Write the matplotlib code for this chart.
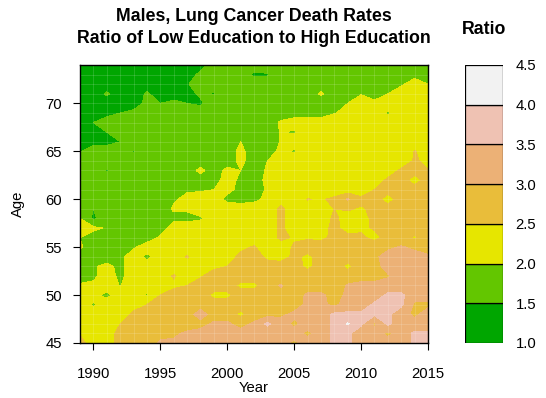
import numpy as np
import matplotlib
matplotlib.use("Agg")
import matplotlib.pyplot as plt

plt.rcParams['font.family'] = ['Liberation Sans', 'DejaVu Sans']

years = np.arange(1989, 2016)
ages = np.arange(45, 75)

# ratio of low- to high-education lung cancer death rates, rows from age 74 down to 45
ratio_rows = [
	[1.3,1.3,1.3,1.3,1.3,1.3,1.3,1.3,1.3,1.3,1.8,1.8,1.8,1.8,1.8,1.8,1.8,1.8,1.8,1.8,1.8,1.8,1.8,1.8,1.8,1.8,1.8],  # 74
	[1.3,1.3,1.3,1.3,1.3,1.3,1.3,1.3,1.3,1.6,1.8,1.8,1.8,1.4,1.45,1.8,1.8,1.8,1.8,1.8,1.8,1.8,1.8,1.8,1.8,1.9,1.8],  # 73
	[1.3,1.3,1.3,1.3,1.3,1.3,1.3,1.3,1.45,1.8,1.8,1.8,1.8,1.8,1.8,1.8,1.8,1.8,1.8,1.8,1.8,1.8,1.8,1.8,1.95,2.15,2.0],  # 72
	[1.3,1.3,1.55,1.3,1.3,1.55,1.3,1.3,1.3,1.6,1.45,1.8,1.8,1.8,1.8,1.8,1.8,1.8,2.05,1.8,1.8,1.98,1.9,2.0,2.2,2.2,2.2],  # 71
	[1.3,1.3,1.3,1.3,1.3,1.6,1.5,1.6,1.5,1.4,1.8,1.8,1.8,1.8,1.8,1.8,1.8,1.8,1.8,1.8,2.0,2.2,2.05,2.15,2.2,2.2,2.2],  # 70
	[1.3,1.3,1.3,1.5,1.6,1.8,1.8,1.8,1.8,1.8,1.8,1.8,1.8,1.8,1.8,1.8,1.8,1.8,1.8,1.98,2.1,2.2,2.2,1.95,2.2,2.2,2.2],  # 69
	[1.3,1.5,1.8,1.8,1.8,1.8,1.8,1.8,1.8,1.8,1.8,1.8,1.8,1.8,1.8,2.05,2.2,2.2,2.2,2.2,2.2,2.2,2.2,2.2,2.2,2.2,2.2],  # 68
	[1.3,1.3,1.5,1.8,1.8,1.8,1.8,1.8,1.8,1.8,1.8,1.8,1.8,1.8,1.8,2.02,1.95,2.2,2.2,2.2,2.2,2.2,2.2,2.2,2.2,2.2,2.2],  # 67
	[1.3,1.3,1.3,1.5,1.8,1.8,1.8,1.8,1.8,1.8,1.8,1.8,2.0,1.8,1.8,2.02,2.2,2.2,2.2,2.2,2.2,2.2,2.2,2.2,2.2,2.2,2.2],  # 66
	[1.45,1.8,1.8,1.8,1.45,1.8,1.8,1.8,1.8,1.8,1.8,1.8,2.1,1.8,1.8,2.1,1.95,2.2,2.2,2.2,2.2,2.2,2.2,2.2,2.2,2.52,2.3],  # 65
	[1.8,1.8,1.8,1.8,1.8,1.8,1.8,1.8,1.8,1.8,1.8,1.8,2.1,1.8,2.0,2.2,2.2,2.2,2.2,2.2,2.2,2.2,2.2,2.2,2.2,2.55,2.4],  # 64
	[1.8,1.8,1.45,1.8,1.8,1.8,1.8,1.8,1.8,2.1,1.8,2.1,2.0,1.8,2.05,2.2,2.2,2.2,2.2,2.2,2.2,2.2,2.2,2.2,2.6,2.6,2.52],  # 63
	[1.8,1.8,1.8,1.8,1.8,1.8,1.8,1.8,1.8,1.8,1.8,2.2,1.9,1.8,2.1,2.2,2.2,2.2,2.2,2.2,2.2,2.2,2.2,2.6,2.6,2.4,2.6],  # 62
	[1.8,1.8,1.8,1.8,1.8,1.8,1.8,1.8,1.95,1.95,2.0,2.1,1.9,1.8,2.05,2.2,2.2,2.2,2.2,2.2,2.2,2.2,2.5,2.6,2.6,2.6,2.6],  # 61
	[1.8,1.8,1.8,1.8,1.8,1.8,1.8,1.95,2.1,2.2,2.2,1.9,1.85,1.9,2.1,2.3,2.2,2.52,2.45,2.6,3.05,2.6,2.6,2.4,2.6,2.6,2.6],  # 60
	[1.8,1.5,1.8,1.8,1.8,1.8,1.8,2.05,2.05,2.2,2.2,2.2,2.2,2.2,2.2,2.6,2.2,2.3,2.3,2.5,2.55,2.45,2.6,2.6,2.7,2.7,2.7],  # 59
	[2.0,1.4,1.8,1.8,1.8,1.8,1.8,1.9,1.9,1.95,2.2,2.2,2.2,2.2,2.2,2.6,2.2,2.2,2.2,2.6,2.3,2.35,2.6,2.7,2.7,2.7,2.7],  # 58
	[2.15,2.1,1.95,1.8,1.8,1.8,1.8,2.2,2.2,2.2,2.2,2.2,2.2,2.2,2.2,2.6,2.2,2.2,2.35,2.6,2.35,2.4,2.55,2.7,2.7,2.7,2.7],  # 57
	[2.0,1.8,1.8,1.8,1.8,1.8,2.05,2.2,2.2,2.2,2.2,2.2,2.2,2.2,2.2,2.6,2.45,2.45,2.4,2.6,2.6,2.6,2.35,2.7,2.7,2.45,2.7],  # 56
	[2.05,1.8,1.8,1.8,1.95,2.2,2.2,2.2,2.2,2.2,2.2,2.2,2.4,2.55,2.2,2.3,2.55,2.7,2.7,2.7,2.7,2.7,2.8,2.9,3.05,2.9,2.7],  # 55
	[1.8,1.8,1.8,1.9,2.2,1.9,2.2,2.2,2.55,2.2,2.2,2.3,2.6,2.7,2.4,2.3,2.6,2.4,2.7,2.7,2.7,2.7,2.9,3.2,3.2,3.2,3.1],  # 54
	[1.8,1.95,2.1,1.9,2.2,2.2,2.2,2.2,2.2,2.3,2.4,2.5,2.7,2.7,2.7,2.7,2.7,2.4,2.7,2.7,2.4,2.7,2.8,3.2,3.2,3.2,3.2],  # 53
	[1.8,1.9,2.2,1.9,2.2,2.2,2.2,2.55,2.2,2.45,2.7,2.7,2.7,2.7,2.7,2.7,2.7,2.7,2.7,2.7,2.7,2.7,2.7,2.95,3.2,3.2,3.2],  # 52
	[2.05,2.1,2.2,1.98,2.2,2.2,2.2,2.4,2.5,2.7,2.7,2.7,2.4,2.4,2.7,3.05,2.7,2.7,2.7,2.7,3.05,3.2,3.2,3.2,3.2,3.2,3.2],  # 51
	[2.2,2.1,1.9,2.2,2.2,1.95,2.5,2.7,2.7,2.7,2.4,2.4,2.7,2.7,2.7,2.8,2.7,3.1,3.1,2.8,3.1,3.2,3.2,3.6,3.6,3.2,3.2],  # 50
	[2.2,1.95,2.2,2.2,2.3,2.5,2.7,2.7,2.7,2.7,2.7,2.7,2.7,2.7,2.7,2.7,2.8,3.1,3.1,2.9,3.2,3.2,3.6,3.6,3.6,2.9,2.9],  # 49
	[1.98,2.2,2.2,2.2,2.6,2.7,2.7,2.7,2.7,3.3,2.7,2.7,2.4,2.7,2.8,2.9,3.1,3.2,3.2,3.6,3.6,3.6,3.6,3.6,3.2,2.9,3.2],  # 48
	[2.2,2.2,2.2,2.5,2.7,2.7,2.7,2.7,2.7,2.8,3.1,3.1,2.8,3.1,3.6,3.2,2.9,3.2,3.2,3.6,4.05,3.6,2.9,3.6,3.2,3.2,3.2],  # 47
	[2.45,2.2,2.2,2.7,2.7,2.7,2.8,2.9,3.1,3.2,3.2,3.2,3.2,3.2,3.2,3.2,3.2,2.9,3.2,3.6,3.6,3.2,3.2,2.9,3.2,3.6,3.6],  # 46
	[2.7,2.2,2.2,2.7,2.7,2.7,3.1,3.1,3.1,3.2,3.2,3.2,3.2,3.2,3.2,3.2,2.9,3.2,3.2,3.6,3.6,3.2,3.2,3.2,3.2,3.6,3.6],  # 45
]
ratio = np.flipud(np.array(ratio_rows))

levels = [1.0, 1.5, 2.0, 2.5, 3.0, 3.5, 4.0, 4.5]
level_labels = ['1.0', '1.5', '2.0', '2.5', '3.0', '3.5', '4.0', '4.5']
terrain7 = ['#00A600', '#63C600', '#E6E600', '#E9BD3A', '#ECB176', '#EFC2B3', '#F2F2F2']

fig = plt.figure(figsize=(5.46, 3.98), dpi=100)
ax = fig.add_axes([80/546, 1 - 343/398, 348/546, 278/398])

ax.contourf(years, ages, ratio, levels=levels, colors=terrain7, antialiased=False)

# faint seams between the grid cells
for yr in years:
	ax.axvline(yr, color='white', lw=0.5, alpha=0.2)
for ag in ages:
	ax.axhline(ag, color='white', lw=0.5, alpha=0.2)

ax.set_xlim(1989, 2015)
ax.set_ylim(45, 74)
ax.set_xticks([1990, 1995, 2000, 2005, 2010, 2015])
ax.set_yticks([45, 50, 55, 60, 65, 70])
ax.tick_params(direction='out', length=5, width=0.8, labelsize=10.7)
ax.tick_params(axis='x', pad=12)
ax.tick_params(axis='y', pad=8)
for s in ax.spines.values():
	s.set_linewidth(1.0)
ax.set_xlabel('Year', fontsize=10.7, labelpad=0.5)
ax.set_ylabel('Age', fontsize=10.7, labelpad=15)
ax.set_title('Males, Lung Cancer Death Rates\nRatio of Low Education to High Education',
	fontsize=12.8, fontweight='bold', pad=16, linespacing=1.35)

# colour key
cax = fig.add_axes([465/546, 1 - 343/398, 38/546, 278/398])
for i in range(len(terrain7)):
	cax.add_patch(plt.Rectangle((0, levels[i]), 1, levels[i+1] - levels[i],
		facecolor=terrain7[i], edgecolor='black', lw=0.9))
cax.set_xlim(0, 1)
cax.set_ylim(levels[0], levels[-1])
cax.set_xticks([])
cax.yaxis.tick_right()
cax.set_yticks(levels)
cax.set_yticklabels(level_labels)
cax.tick_params(axis='y', length=0, labelsize=10.7, pad=9)
for s in cax.spines.values():
	s.set_visible(False)
fig.text(484/546, 1 - 30/398, 'Ratio', ha='center', va='center', fontsize=12.8, fontweight='bold')

fig.savefig('out.png', dpi=100)
